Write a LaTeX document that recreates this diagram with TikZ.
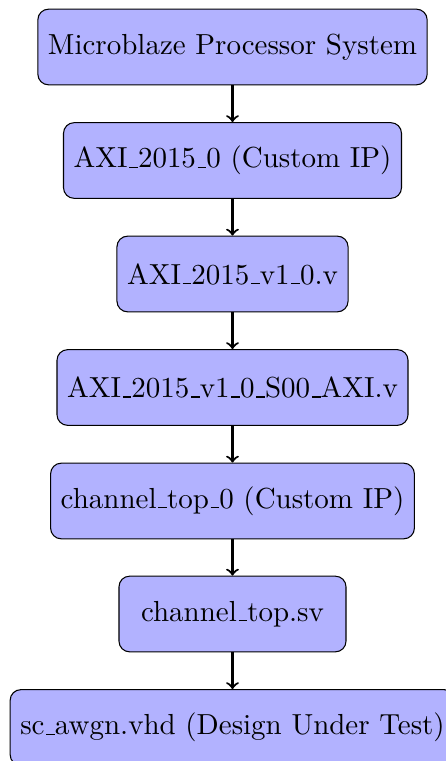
\documentclass[tikz,border=0pt]{standalone}
\usetikzlibrary{positioning}
\newcommand\uscore{\leavevmode\kern.06em\vbox{\hrule width .3em}}
\begin{document}
\begin{tikzpicture}[x=0.376pt,y=-0.376pt,
  blk/.style={draw, fill=blue!30, rounded corners, minimum height=1cm, minimum width=3cm, inner sep=3.8pt, align=center, font=\fontsize{10.9}{13}\selectfont},
  conn/.style={->, thick}]
\useasboundingbox (0,0) rectangle (446,761);
\node[blk] (a) at (232.5,47) {Microblaze Processor System};
\node[blk] (b) at (232.5,160.5) {AXI\uscore 2015\uscore 0 (Custom IP)};
\node[blk] (c) at (232.5,274) {AXI\uscore 2015\uscore v1\uscore 0.v};
\node[blk] (d) at (232.5,387.5) {AXI\uscore 2015\uscore v1\uscore 0\uscore S00\uscore AXI.v};
\node[blk] (e) at (232.5,501) {channel\uscore top\uscore 0 (Custom IP)};
\node[blk] (f) at (232.5,614) {channel\uscore top.sv};
\node[blk] (g) at (232.5,727.5) {sc\uscore awgn.vhd (Design Under Test)};
\draw[conn] (a) -- (b);
\draw[conn] (b) -- (c);
\draw[conn] (c) -- (d);
\draw[conn] (d) -- (e);
\draw[conn] (e) -- (f);
\draw[conn] (f) -- (g);
\end{tikzpicture}
\end{document}
